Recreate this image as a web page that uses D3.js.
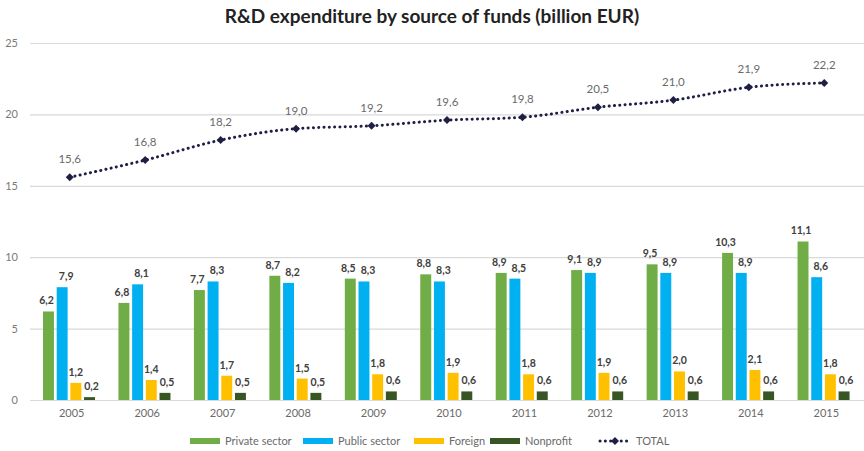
<!DOCTYPE html>
<html>
<head>
<meta charset="utf-8">
<script src="https://cdnjs.cloudflare.com/ajax/libs/d3/7.8.5/d3.min.js"></script>
<style>
  body { margin: 0; background: #fff; }
  svg text { font-family: Lato, "Open Sans", sans-serif; }
</style>
</head>
<body>
<div id="chart"></div>
<script>
var years = ["2005","2006","2007","2008","2009","2010","2011","2012","2013","2014","2015"];
var privateSector = [6.2, 6.8, 7.7, 8.7, 8.5, 8.8, 8.9, 9.1, 9.5, 10.3, 11.1];
var publicSector  = [7.9, 8.1, 8.3, 8.2, 8.3, 8.3, 8.5, 8.9, 8.9, 8.9, 8.6];
var foreign       = [1.2, 1.4, 1.7, 1.5, 1.8, 1.9, 1.8, 1.9, 2.0, 2.1, 1.8];
var nonprofit     = [0.2, 0.5, 0.5, 0.5, 0.6, 0.6, 0.6, 0.6, 0.6, 0.6, 0.6];
var total         = [15.6, 16.8, 18.2, 19.0, 19.2, 19.6, 19.8, 20.5, 21.0, 21.9, 22.2];
var yTicks = [0, 5, 10, 15, 20, 25];

var seriesNames = ["Private sector", "Public sector", "Foreign", "Nonprofit"];
var seriesValues = [privateSector, publicSector, foreign, nonprofit];
var colors = ["#70ad47", "#00b0f0", "#ffc000", "#375623"];
var labelShift = [-2, 4, 0, 2];
var lineColor = "#1f1f45";

var svgWidth = 864, svgHeight = 451;
var margin = {top: 43, right: 0, bottom: 51, left: 34};
var chartWidth = svgWidth - margin.left - margin.right;
var chartHeight = svgHeight - margin.top - margin.bottom;

var fmt = function(v) { return v.toFixed(1).replace(".", ","); };

var svg = d3.select("#chart").append("svg")
    .attr("width", svgWidth)
    .attr("height", svgHeight);

svg.append("text")
    .attr("x", 432).attr("y", 23)
    .attr("text-anchor", "middle")
    .attr("font-size", "19px")
    .attr("font-weight", "bold")
    .attr("fill", "#222")
    .text("R&D expenditure by source of funds (billion EUR)");

var chartGroup = svg.append("g")
    .attr("transform", `translate(${margin.left}, ${margin.top})`);

var xScale = d3.scaleBand().domain(years).range([0, chartWidth]);
var x1 = d3.scaleBand().domain(seriesNames).range([9, 61]).paddingInner(0.2);
var yScale = d3.scaleLinear().domain([0, 25]).range([chartHeight, 0]);

// gridlines + y labels
var yAxis = d3.axisLeft(yScale).tickValues(yTicks).tickSize(-chartWidth - 4).tickPadding(12);
var gy = chartGroup.append("g").attr("transform", "translate(-4,0)").call(yAxis);
gy.select(".domain").remove();
gy.selectAll(".tick line").attr("stroke", "#d9d9d9").attr("stroke-width", 1.2);
gy.selectAll(".tick text").attr("fill", "#7a7a7a").attr("font-size", "11px");

// x axis
var xAxis = d3.axisBottom(xScale).tickSize(0).tickPadding(9);
var gx = chartGroup.append("g").attr("transform", `translate(0, ${chartHeight})`).call(xAxis);
gx.select(".domain").attr("stroke", "#d9d9d9");
gx.selectAll(".tick text").attr("fill", "#6a6a6a").attr("font-size", "11px");

// bars
seriesNames.forEach(function(name, si) {
  var data = years.map(function(y, i) { return {year: y, value: seriesValues[si][i]}; });
  chartGroup.selectAll(".bar" + si)
    .data(data)
    .enter()
    .append("rect")
    .attr("x", d => xScale(d.year) + x1(name))
    .attr("y", d => yScale(d.value))
    .attr("width", x1.bandwidth())
    .attr("height", d => chartHeight - yScale(d.value))
    .attr("fill", colors[si]);
  chartGroup.selectAll(".lbl" + si)
    .data(data)
    .enter()
    .append("text")
    .attr("x", d => xScale(d.year) + x1(name) + x1.bandwidth() / 2 + labelShift[si])
    .attr("y", d => yScale(d.value) - 7)
    .attr("text-anchor", "middle")
    .attr("font-size", "10.5px")
    .attr("font-weight", "bold")
    .attr("fill", "#404040")
    .text(d => fmt(d.value));
});

// total line
var totalData = years.map(function(y, i) { return {year: y, value: total[i]}; });
var cx = d => xScale(d.year) + xScale.bandwidth() / 2 - 2;
var line = d3.line()
    .x(cx)
    .y(d => yScale(d.value))
    .curve(d3.curveMonotoneX);
chartGroup.append("path")
    .datum(totalData)
    .attr("d", line)
    .attr("fill", "none")
    .attr("stroke", lineColor)
    .attr("stroke-width", 3)
    .attr("stroke-dasharray", "0.1 5.2")
    .attr("stroke-linecap", "round");
// diamond marker: square turned 45 degrees
var diamond = d3.symbol().type(d3.symbolSquare).size(32);
chartGroup.selectAll(".pt")
    .data(totalData)
    .enter()
    .append("path")
    .attr("d", diamond)
    .attr("transform", d => `translate(${cx(d)}, ${yScale(d.value)}) rotate(45)`)
    .attr("fill", lineColor);
chartGroup.selectAll(".tl")
    .data(totalData)
    .enter()
    .append("text")
    .attr("x", cx)
    .attr("y", d => yScale(d.value) - 14)
    .attr("text-anchor", "middle")
    .attr("font-size", "11.5px")
    .attr("fill", "#6a6a6a")
    .text(d => fmt(d.value));

// legend
var legend = svg.append("g").attr("transform", "translate(0, 441)");
var legendX = [190, 303, 414, 490];
seriesNames.forEach(function(name, i) {
  legend.append("rect")
    .attr("x", legendX[i]).attr("y", -3)
    .attr("width", 30).attr("height", 6)
    .attr("fill", colors[i]);
  legend.append("text")
    .attr("x", legendX[i] + 35).attr("y", 4)
    .attr("font-size", "11px")
    .attr("fill", "#6a6a6a")
    .text(name);
});
legend.append("line")
  .attr("x1", 600).attr("x2", 630).attr("y1", 0).attr("y2", 0)
  .attr("stroke", lineColor).attr("stroke-width", 3)
  .attr("stroke-dasharray", "0.1 5.2").attr("stroke-linecap", "round");
legend.append("path")
  .attr("d", diamond)
  .attr("transform", "translate(615,0) rotate(45)")
  .attr("fill", lineColor);
legend.append("text")
  .attr("x", 636).attr("y", 4)
  .attr("font-size", "11px")
  .attr("fill", "#6a6a6a")
  .text("TOTAL");
</script>
</body>
</html>
